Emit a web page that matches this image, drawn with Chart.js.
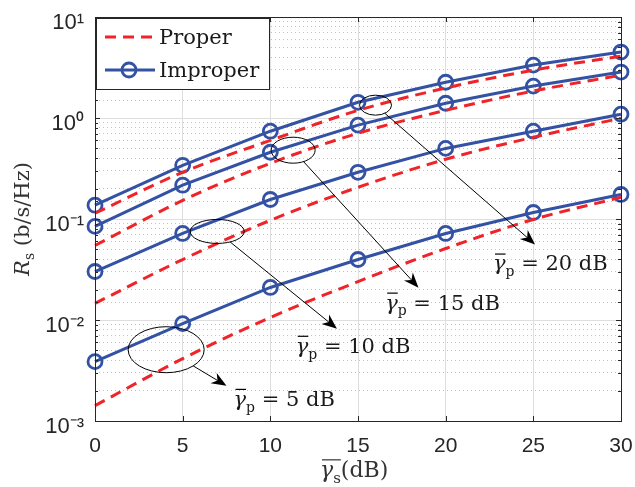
<!DOCTYPE html>
<html>
<head>
<meta charset="utf-8">
<title>Secrecy rate: proper vs improper signaling</title>
<style>
  html, body { margin: 0; padding: 0; background: #fff; }
</style>
</head>
<body>
<canvas id="chart" width="635" height="487"></canvas>
<script src="https://cdn.jsdelivr.net/npm/chart.js"></script>
<script>
// x axis: average secondary SNR (dB)
const snrDb = [0, 5, 10, 15, 20, 25, 30];

// secrecy rate R_s (b/s/Hz), one pair of curves per primary SNR
const proper20   = [0.114, 0.29, 0.60, 1.19, 1.98, 2.98, 4.10];
const improper20 = [0.137, 0.34, 0.74, 1.43, 2.26, 3.34, 4.50];
const proper15   = [0.0547, 0.153, 0.356, 0.706, 1.19, 1.85, 2.66];
const improper15 = [0.0845, 0.216, 0.458, 0.85, 1.40, 2.07, 2.85];
const proper10   = [0.0146, 0.0397, 0.097, 0.206, 0.39, 0.645, 0.995];
const improper10 = [0.0302, 0.0719, 0.156, 0.29, 0.50, 0.74, 1.09];
const proper5    = [0.00142, 0.00414, 0.0106, 0.024, 0.051, 0.099, 0.164];
const improper5  = [0.00387, 0.0092, 0.021, 0.0397, 0.0719, 0.116, 0.175];

const xTicks = [0, 5, 10, 15, 20, 25, 30];
const yMin = 1e-3, yMax = 10;

// annotation callouts: ellipse centre, arrow tip and label position in data units
const callouts = [
  { text: '20 dB', c: [16.0, 1.34],   rx: 16, ry: 10, tip: [25.1, 0.056],   at: [22.7, 0.0363] },
  { text: '15 dB', c: [11.3, 0.48],   rx: 22, ry: 13, tip: [18.45, 0.0209], at: [16.55, 0.0149] },
  { text: '10 dB', c: [6.97, 0.0753], rx: 27, ry: 12, tip: [13.8, 0.0082],  at: [11.45, 0.00557] },
  { text: '5 dB',  c: [4.06, 0.00508], rx: 38, ry: 23, tip: [7.5, 0.00223], at: [7.9, 0.00166] }
];

const RED = 'rgb(240,36,40)';
const BLUE = 'rgb(52,82,164)';
const AXIS = '#262626';
const SERIF = '"DejaVu Serif", serif';

const isDecade = v => Math.abs(Math.log10(v) - Math.round(Math.log10(v))) < 1e-6;
const sup = { '-': '\u207B', '0': '\u2070', '1': '\u00B9', '2': '\u00B2', '3': '\u00B3' };

function pts(ys) {
  return snrDb.map((x, i) => ({ x: x, y: ys[i] }));
}
function properSet(ys) {
  return { label: 'Proper', data: pts(ys), borderColor: RED, borderWidth: 3, borderDash: [11, 7],
           pointRadius: 0, cubicInterpolationMode: 'monotone', clip: false };
}
function improperSet(ys) {
  return { label: 'Improper', data: pts(ys), borderColor: BLUE, borderWidth: 3, tension: 0,
           pointRadius: 7, pointBorderWidth: 2.8, pointBorderColor: BLUE,
           pointBackgroundColor: 'rgba(0,0,0,0)', clip: false };
}

// little helper for gamma-bar labels
function gammaLabel(ctx, x, y, sub, rest, size, longBar) {
  ctx.font = 'italic ' + size + 'px ' + SERIF;
  const gw = ctx.measureText('\u03B3').width;
  ctx.fillText('\u03B3', x, y);
  ctx.font = Math.round(size * 0.68) + 'px ' + SERIF;
  const sw = ctx.measureText(sub).width;
  ctx.fillText(sub, x + gw, y + size * 0.28);
  ctx.beginPath();
  ctx.lineWidth = 1.2;
  ctx.moveTo(x + 2, y - size * 0.78);
  ctx.lineTo(x + gw + (longBar ? sw : 0), y - size * 0.78);
  ctx.stroke();
  ctx.font = size + 'px ' + SERIF;
  ctx.fillText(rest, x + gw + sw, y);
}

const decor = {
  id: 'decor',
  afterDatasetsDraw(chart) {
    const ctx = chart.ctx, a = chart.chartArea;
    const xs = chart.scales.x, ys = chart.scales.y;
    ctx.save();

    // inward tick marks on all four sides
    ctx.strokeStyle = AXIS;
    ctx.lineWidth = 1;
    ctx.beginPath();
    xs.ticks.forEach(t => {
      const px = Math.round(xs.getPixelForValue(t.value)) + 0.5;
      ctx.moveTo(px, a.bottom); ctx.lineTo(px, a.bottom - 5);
      ctx.moveTo(px, a.top); ctx.lineTo(px, a.top + 5);
    });
    ys.ticks.forEach(t => {
      const py = Math.round(ys.getPixelForValue(t.value)) + 0.5;
      const len = isDecade(t.value) ? 5 : 3;
      ctx.moveTo(a.left, py); ctx.lineTo(a.left + len, py);
      ctx.moveTo(a.right, py); ctx.lineTo(a.right - len, py);
    });
    ctx.stroke();
    ctx.strokeRect(Math.round(a.left) + 0.5, Math.round(a.top) + 0.5,
                   Math.round(a.right - a.left), Math.round(a.bottom - a.top));

    // callouts
    ctx.strokeStyle = '#000';
    ctx.fillStyle = '#1a1a1a';
    callouts.forEach(c => {
      const cx = xs.getPixelForValue(c.c[0]), cy = ys.getPixelForValue(c.c[1]);
      const tx = xs.getPixelForValue(c.tip[0]), ty = ys.getPixelForValue(c.tip[1]);
      ctx.lineWidth = 1;
      ctx.beginPath();
      ctx.ellipse(cx, cy, c.rx, c.ry, 0, 0, Math.PI * 2);
      ctx.stroke();
      const dx = tx - cx, dy = ty - cy;
      const k = 1 / Math.sqrt((dx / c.rx) ** 2 + (dy / c.ry) ** 2);
      const sx = cx + dx * k, sy = cy + dy * k;
      const len = Math.hypot(tx - sx, ty - sy);
      const ux = (tx - sx) / len, uy = (ty - sy) / len;
      const L = 15, W = 6;
      ctx.beginPath();
      ctx.moveTo(sx, sy);
      ctx.lineTo(tx - ux * L * 0.7, ty - uy * L * 0.7);
      ctx.stroke();
      ctx.beginPath();
      ctx.moveTo(tx, ty);
      ctx.lineTo(tx - ux * L - uy * W, ty - uy * L + ux * W);
      ctx.lineTo(tx - ux * L * 0.7, ty - uy * L * 0.7);
      ctx.lineTo(tx - ux * L + uy * W, ty - uy * L - ux * W);
      ctx.closePath();
      ctx.fillStyle = '#000';
      ctx.fill();
      ctx.fillStyle = '#1a1a1a';
      const lx = xs.getPixelForValue(c.at[0]), ly = ys.getPixelForValue(c.at[1]);
      ctx.textBaseline = 'alphabetic';
      gammaLabel(ctx, lx, ly + 7, 'p', ' = ' + c.text, 21, false);
    });

    // legend box inside the axes
    const lx = a.left, ly = a.top;
    ctx.fillStyle = '#fff';
    ctx.fillRect(lx + 1, ly + 1, 174, 72);
    ctx.strokeStyle = AXIS;
    ctx.lineWidth = 1;
    ctx.strokeRect(Math.round(lx) + 1.5, Math.round(ly) + 1.5, 173, 71);
    const pSet = chart.data.datasets[0], iSet = chart.data.datasets[1];
    ctx.lineWidth = 3;
    ctx.strokeStyle = pSet.borderColor;
    ctx.setLineDash(pSet.borderDash);
    ctx.beginPath();
    ctx.moveTo(lx + 10, ly + 20); ctx.lineTo(lx + 60, ly + 20);
    ctx.stroke();
    ctx.setLineDash([]);
    ctx.strokeStyle = iSet.borderColor;
    ctx.beginPath();
    ctx.moveTo(lx + 10, ly + 53); ctx.lineTo(lx + 60, ly + 53);
    ctx.stroke();
    ctx.lineWidth = iSet.pointBorderWidth;
    ctx.beginPath();
    ctx.arc(lx + 34, ly + 53, iSet.pointRadius, 0, Math.PI * 2);
    ctx.stroke();
    ctx.fillStyle = '#1a1a1a';
    ctx.font = '21px ' + SERIF;
    ctx.fillText(pSet.label, lx + 64, ly + 27);
    ctx.fillText(iSet.label, lx + 64, ly + 60);

    // axis titles
    ctx.strokeStyle = '#333';
    ctx.fillStyle = '#333';
    gammaLabel(ctx, 320, 477, 's', '(dB)', 22, true);

    ctx.translate(29, 219);
    ctx.rotate(-Math.PI / 2);
    ctx.font = 'italic 21px ' + SERIF;
    const rw = ctx.measureText('R').width;
    ctx.font = '14px ' + SERIF;
    const sw = ctx.measureText('s').width;
    ctx.font = '21px ' + SERIF;
    const tw = ctx.measureText(' (b/s/Hz)').width;
    let x0 = -(rw + sw + tw) / 2;
    ctx.font = 'italic 21px ' + SERIF;
    ctx.fillText('R', x0, 0);
    ctx.font = '14px ' + SERIF;
    ctx.fillText('s', x0 + rw, 5);
    ctx.font = '21px ' + SERIF;
    ctx.fillText(' (b/s/Hz)', x0 + rw + sw, 0);

    ctx.restore();
  }
};

// fixed axis box like the original figure, no automatic label overhang padding
function noPad(s) {
  s.paddingLeft = 0; s.paddingRight = 0; s.paddingTop = 0; s.paddingBottom = 0;
}

new Chart(document.getElementById('chart'), {
  type: 'line',
  data: {
    datasets: [
      properSet(proper20), improperSet(improper20),
      properSet(proper15), improperSet(improper15),
      properSet(proper10), improperSet(improper10),
      properSet(proper5), improperSet(improper5)
    ]
  },
  options: {
    responsive: false,
    animation: false,
    devicePixelRatio: 1,
    layout: { padding: { top: 17, right: 14, left: 0, bottom: 0 } },
    plugins: { legend: { display: false }, tooltip: { enabled: false } },
    scales: {
      x: {
        type: 'linear',
        min: 0, max: 30,
        afterBuildTicks: s => { s.ticks = xTicks.map(v => ({ value: v })); },
        afterFit: s => { s.height = 66; noPad(s); },
        ticks: { color: AXIS, padding: 13, font: { family: '"Liberation Sans", Arial', size: 21 } },
        grid: { color: '#dedede', drawTicks: false },
        border: { display: false }
      },
      y: {
        type: 'logarithmic',
        min: yMin, max: yMax,
        afterFit: s => { s.width = 95; noPad(s); },
        ticks: {
          autoSkip: false,
          color: AXIS,
          padding: 11,
          labelOffset: 6,
          font: { family: '"Liberation Sans", Arial', size: 22 },
          callback: v => {
            if (!isDecade(v)) return '';
            const e = String(Math.round(Math.log10(v)));
            return '10' + e.split('').map(ch => sup[ch]).join('');
          }
        },
        grid: { color: c => (c.tick && isDecade(c.tick.value)) ? '#dedede' : 'rgba(0,0,0,0)', drawTicks: false },
        border: { display: false }
      },
      yMinor: {
        type: 'logarithmic',
        position: 'right',
        min: yMin, max: yMax,
        afterFit: s => { s.width = 0; noPad(s); },
        ticks: { display: false, autoSkip: false },
        grid: { color: c => (c.tick && !isDecade(c.tick.value)) ? '#c2c2c2' : 'rgba(0,0,0,0)', drawTicks: false },
        border: { display: false, dash: [1, 3] }
      }
    }
  },
  plugins: [decor]
});
</script>
</body>
</html>
